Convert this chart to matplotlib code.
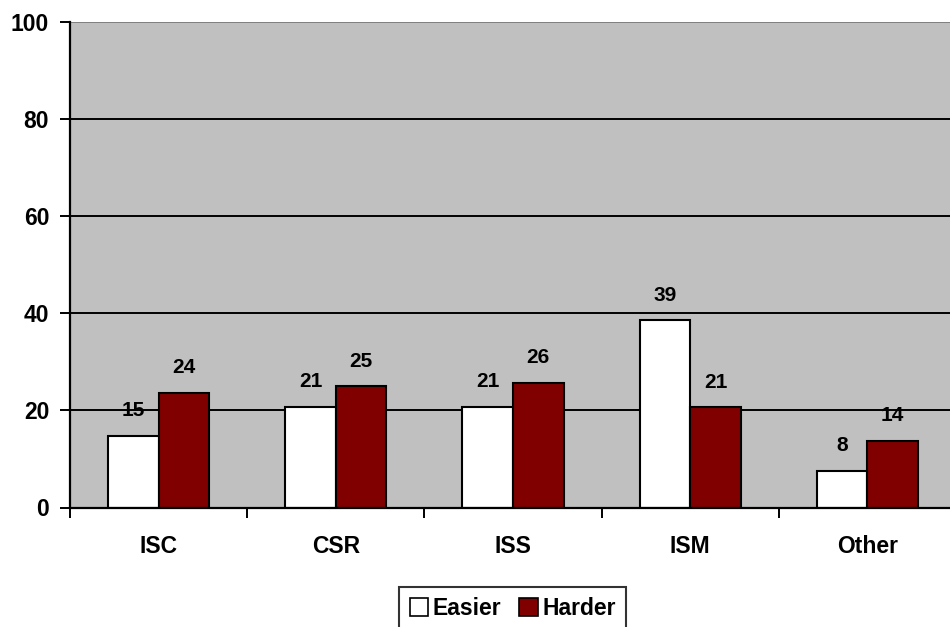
import numpy as np
import matplotlib.pyplot as plt
from matplotlib.patches import Patch

plt.rcParams['font.family'] = ['Liberation Sans', 'DejaVu Sans']
plt.rcParams['font.weight'] = 'bold'

# Share of responses per category
categories = ["ISC", "CSR", "ISS", "ISM", "Other"]
easier = [14.8, 20.8, 20.8, 38.6, 7.6]
harder = [23.6, 25.0, 25.7, 20.6, 13.7]
series_names = ["Easier", "Harder"]
y_ticks = [0, 20, 40, 60, 80, 100]

fig = plt.figure(figsize=(9.5, 6.27), dpi=100)
ax = fig.add_axes([70 / 950, 1 - 507.5 / 627, 886 / 950, 485.5 / 627])
ax.set_facecolor("#C0C0C0")

x = np.arange(len(categories)) + 0.5
w = 0.285
b1 = ax.bar(x - w / 2, easier, w, color="white", edgecolor="black", linewidth=1.5, zorder=3)
b2 = ax.bar(x + w / 2, harder, w, color="#800000", edgecolor="black", linewidth=1.5, zorder=3)

# value labels above each bar
for bars, vals in ((b1, easier), (b2, harder)):
    for rect, v in zip(bars, vals):
        ax.annotate("%.0f" % v, (rect.get_x() + rect.get_width() / 2, v),
                    xytext=(0, 18), textcoords="offset points",
                    ha="center", va="center", fontsize=15, fontweight="bold")

ax.set_xlim(0, len(categories))
ax.set_ylim(0, 100)
ax.set_yticks(y_ticks)
for t in y_ticks[1:-1]:
    ax.axhline(t, color="black", linewidth=1.4, zorder=1)
ax.axhline(100, color="#808080", linewidth=1.4, zorder=1)

ax.set_xticks(np.arange(len(categories) + 1))
ax.set_xticklabels([])
ax.set_xticks(x, minor=True)
ax.set_xticklabels(categories, minor=True)
ax.tick_params(axis="x", which="major", direction="out", length=7, width=1.4)
ax.tick_params(axis="x", which="minor", length=0, pad=20, labelsize=16.5)
ax.tick_params(axis="y", direction="out", length=7, width=1.4, pad=8, labelsize=16.5)

for side in ("top", "right"):
    ax.spines[side].set_visible(False)
for side in ("left", "bottom"):
    ax.spines[side].set_linewidth(1.6)
    ax.spines[side].set_zorder(4)

handles = [Patch(facecolor="white", edgecolor="black", linewidth=1.2),
           Patch(facecolor="#800000", edgecolor="black", linewidth=1.2)]
leg = fig.legend(handles, series_names, loc="upper center", ncol=2,
                 bbox_to_anchor=(512.7 / 950, 1 - 586.7 / 627),
                 fontsize=16.5, frameon=True, fancybox=False,
                 handlelength=0.8, handleheight=0.8, handletextpad=0.2,
                 columnspacing=0.8, borderpad=0.45, borderaxespad=0)
leg.get_frame().set_edgecolor("black")
leg.get_frame().set_linewidth(1.5)

fig.savefig("out.png", dpi=100)
